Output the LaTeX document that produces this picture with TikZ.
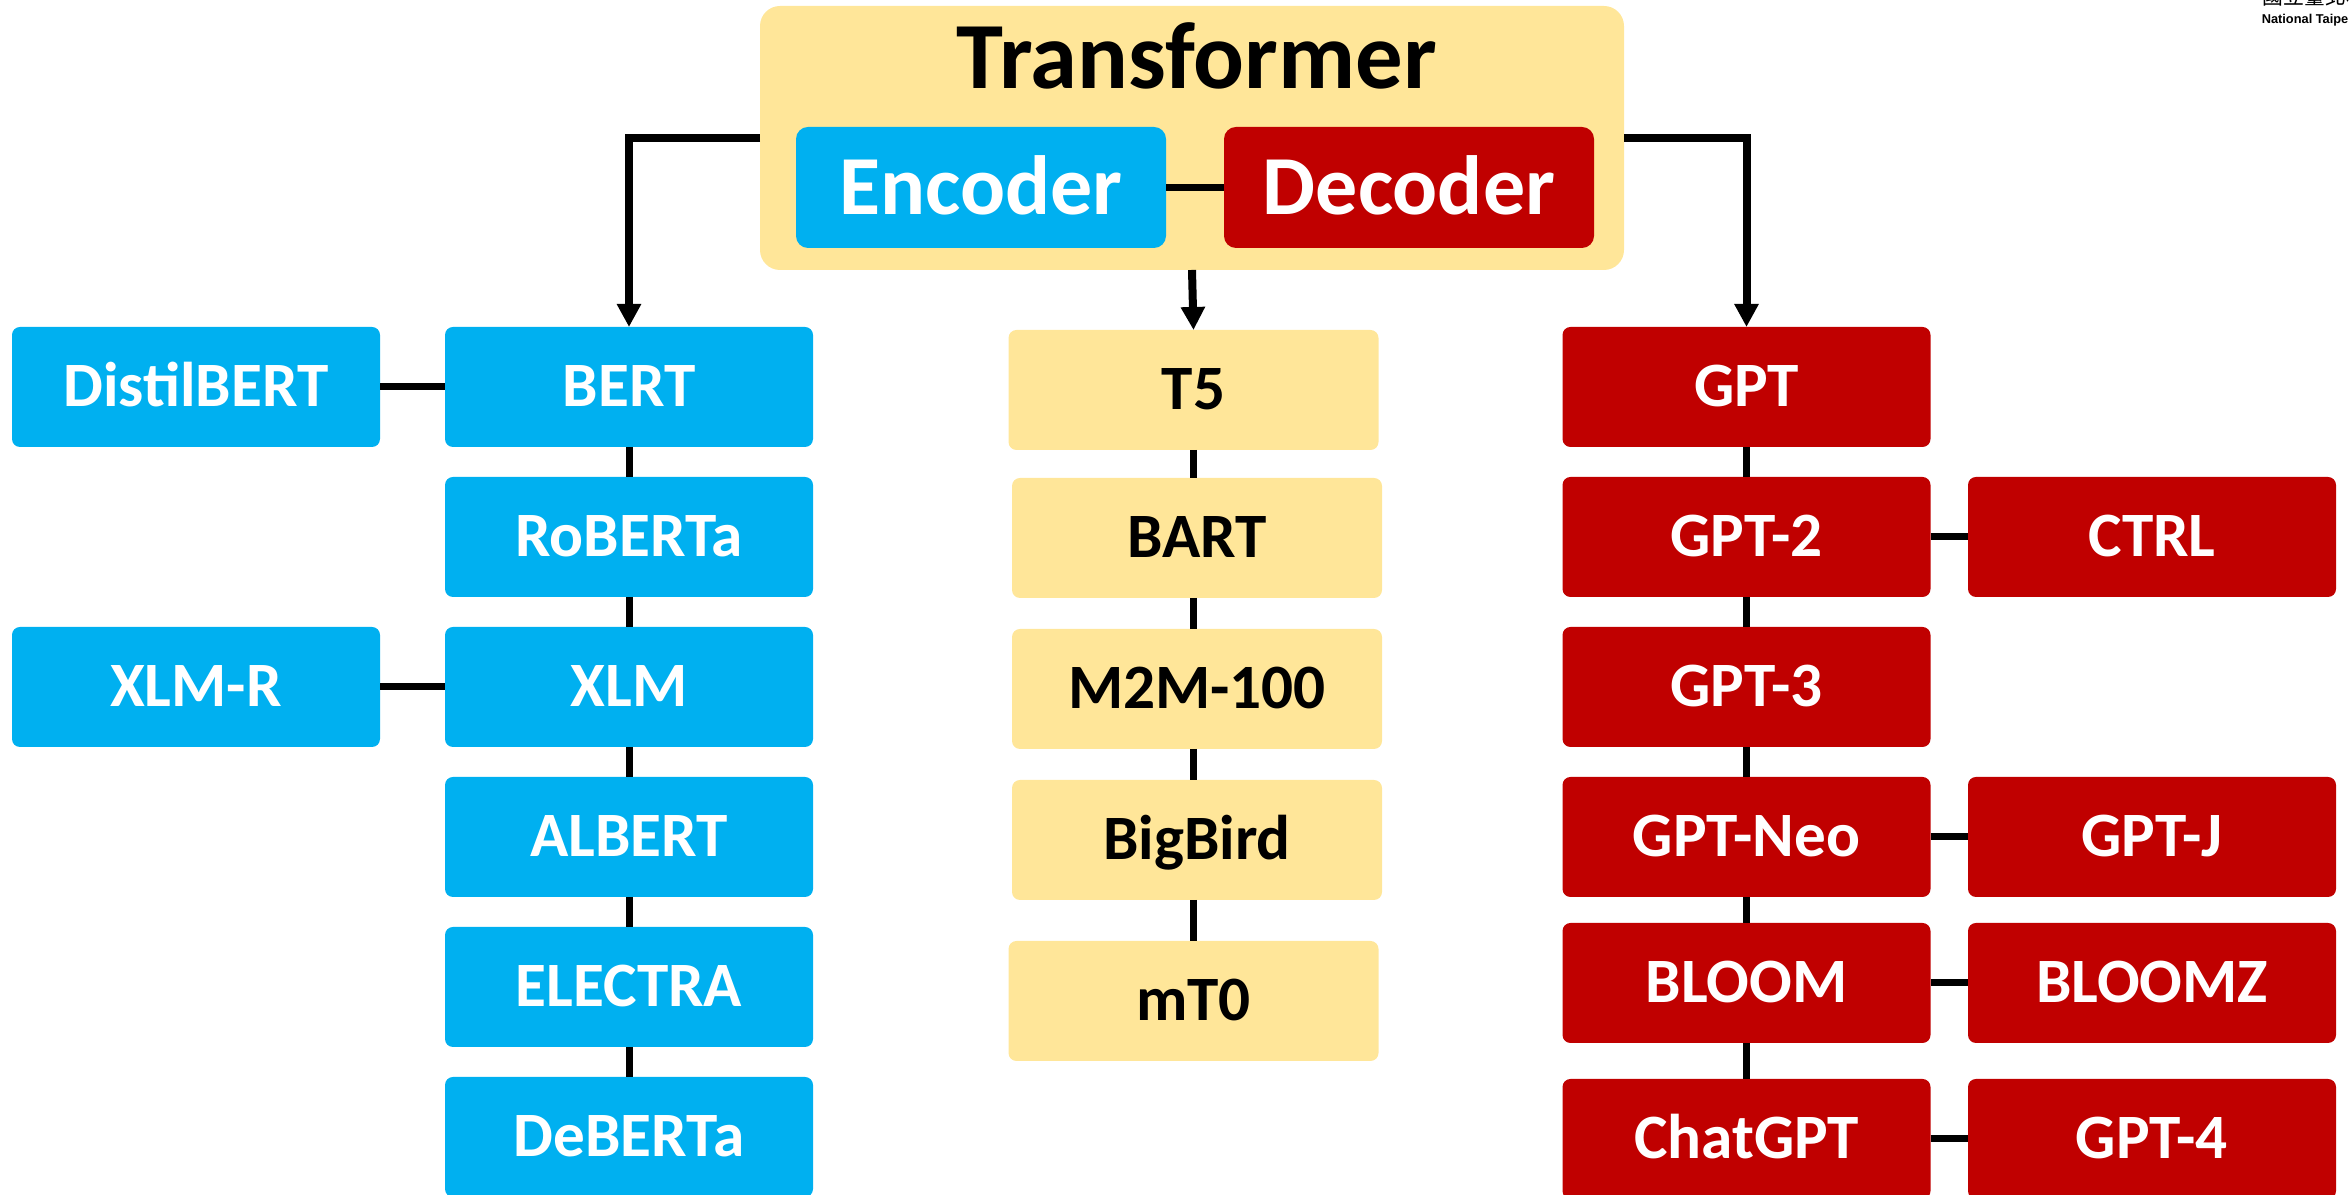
\documentclass[tikz,border=0pt]{standalone}
\usepackage{fontspec}
\setmainfont{Carlito}
\newfontfamily\cjkfont{Noto Sans CJK TC}
\newfontfamily\logofont{Liberation Sans}
\usetikzlibrary{arrows.meta}
\definecolor{encblue}{HTML}{00B0F0}
\definecolor{decred}{HTML}{C00000}
\definecolor{tfyellow}{HTML}{FFE699}
\tikzset{
  box/.style={rounded corners=2pt, minimum width=92pt, minimum height=30pt,
    inner sep=0pt, outer sep=0pt, draw=none,
    font=\fontsize{15.8}{18}\selectfont\bfseries, text height=10pt, text depth=0pt},
  encbox/.style={box, fill=encblue, text=white},
  decbox/.style={box, fill=decred, text=white},
  midbox/.style={box, fill=tfyellow, text=black, minimum width=92.5pt},
  link/.style={line width=1.75pt, draw=black},
  arrowlink/.style={line width=2pt, draw=black, -{Triangle[length=5.75pt, width=5.75pt]}},
  bigbox/.style={rounded corners=3pt, minimum width=92.5pt, minimum height=30.25pt,
    inner sep=0pt, outer sep=0pt, text=white,
    font=\fontsize{21}{24}\selectfont\bfseries, text height=13.3pt, text depth=0pt},
}
\begin{document}
\begin{tikzpicture}[x=0.25pt, y=-0.25pt]
\useasboundingbox (0,0) rectangle (2349,1195);
\clip (0,0) rectangle (2349,1195);

% logo (partly outside the picture)
\node[anchor=base west, inner sep=0pt, font=\cjkfont\fontsize{5.2}{6}\selectfont] (logocn) at (2262,5) {國立臺北科技大學};
\node[anchor=base west, inner sep=0pt, font=\logofont\bfseries\fontsize{3.2}{4}\selectfont] (logoen) at (2261,24) {National Taipei University of Technology};

% Transformer block
\node[fill=tfyellow, rounded corners=5pt, minimum width=216pt, minimum height=66pt,
      inner sep=0pt, outer sep=0pt] (tf) at (1192,138) {};
\node[anchor=base, inner sep=0pt, font=\fontsize{23.7}{28}\selectfont\bfseries] (title) at (1197,89) {Transformer};
\node[bigbox, fill=encblue] (enc) at (981,187.5) {Encoder};
\node[bigbox, fill=decred] (dec) at (1409,187.5) {Decoder};
\draw[link] (enc) -- (dec);

% Encoder side
\node[encbox] (distil) at (196,387) {DistilBERT};
\node[encbox] (xlmr)   at (196,687) {XLM-R};
\node[encbox] (bert)    at (629,387)  {BERT};
\node[encbox] (roberta) at (629,537)  {RoBERTa};
\node[encbox] (xlm)     at (629,687)  {XLM};
\node[encbox] (albert)  at (629,837)  {ALBERT};
\node[encbox] (electra) at (629,987)  {ELECTRA};
\node[encbox] (deberta) at (629,1137) {DeBERTa};

% Encoder-decoder
\node[midbox] (t5)     at (1193.5,390)  {T5};
\node[midbox] (bart)   at (1197,538)    {BART};
\node[midbox] (m2m)    at (1197,689)    {M2M-100};
\node[midbox] (bigbird)at (1197,840)    {BigBird};
\node[midbox] (mt0)    at (1193.5,1001) {mT0};

% Decoder side
\node[decbox] (gpt)     at (1746.5,387)  {GPT};
\node[decbox] (gpt2)    at (1746.5,537)  {GPT-2};
\node[decbox] (gpt3)    at (1746.5,687)  {GPT-3};
\node[decbox] (gptneo)  at (1746.5,837)  {GPT-Neo};
\node[decbox] (bloom)   at (1746.5,983)  {BLOOM};
\node[decbox] (chatgpt) at (1746.5,1139) {ChatGPT};
\node[decbox] (ctrl)    at (2152,537)  {CTRL};
\node[decbox] (gptj)    at (2152,837)  {GPT-J};
\node[decbox] (bloomz)  at (2152,983)  {BLOOMZ};
\node[decbox] (gpt4)    at (2152,1139) {GPT-4};

% arrows from Transformer
\draw[arrowlink] (tf.west) -| (bert.north);
\draw[arrowlink] (tf.east) -| (gpt.north);
\draw[arrowlink] (tf.south) -- (t5.north);

% links
\draw[link] (distil) -- (bert);
\draw[link] (xlmr) -- (xlm);
\draw[link] (bert) -- (roberta);
\draw[link] (roberta) -- (xlm);
\draw[link] (xlm) -- (albert);
\draw[link] (albert) -- (electra);
\draw[link] (electra) -- (deberta);

\draw[link] (t5.south) -- (t5.south |- bart.north);
\draw[link] (t5.south |- bart.south) -- (t5.south |- m2m.north);
\draw[link] (t5.south |- m2m.south) -- (t5.south |- bigbird.north);
\draw[link] (t5.south |- bigbird.south) -- (mt0.north);

\draw[link] (gpt) -- (gpt2);
\draw[link] (gpt2) -- (gpt3);
\draw[link] (gpt3) -- (gptneo);
\draw[link] (gptneo) -- (bloom);
\draw[link] (bloom) -- (chatgpt);
\draw[link] (gpt2) -- (ctrl);
\draw[link] (gptneo) -- (gptj);
\draw[link] (bloom) -- (bloomz);
\draw[link] (chatgpt) -- (gpt4);
\end{tikzpicture}
\end{document}
